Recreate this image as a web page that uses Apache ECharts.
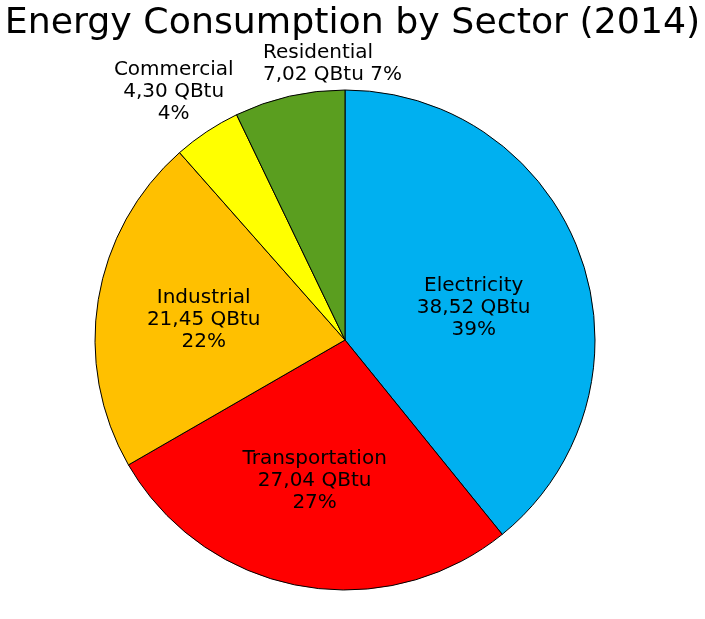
<!DOCTYPE html>
<html><head><meta charset="utf-8">
<script src="https://cdn.jsdelivr.net/npm/echarts@6/dist/echarts.min.js"></script>
<style>html,body{margin:0;padding:0;background:#fff}#c{width:705px;height:619px}</style>
</head><body><div id="c"></div>
<script>
const categories = ['Electricity', 'Transportation', 'Industrial', 'Commercial', 'Residential'];
const values = [38.52, 27.04, 21.45, 4.30, 7.02];
const colors = ['#00B0F0', '#FF0000', '#FFC000', '#FFFF00', '#5A9E1F'];
const unit = 'QBtu';
const total = values.reduce((a, b) => a + b, 0);
const outside = { 'Commercial': 'c', 'Residential': 'l' };
// label nudges (pixels) relative to library default placement
const labelShift = {
  'Electricity': [8, 10], 'Transportation': [-7, 15], 'Industrial': [-15, 0],
  'Commercial': [58, -23], 'Residential': [133, -13]
};

const chart = echarts.init(document.getElementById('c'));
const txt = { fontFamily: 'DejaVu Sans', fontSize: 20, lineHeight: 22, color: '#000' };
chart.setOption({
  animation: false,
  backgroundColor: '#fff',
  title: {
    text: 'Energy Consumption by Sector (2014)',
    left: 'center', top: 1,
    textStyle: { fontFamily: 'DejaVu Sans', fontSize: 36.3, fontWeight: 'normal', color: '#000' }
  },
  series: [{
    type: 'pie',
    center: [345, 340],
    radius: 250,
    startAngle: 90,
    clockwise: true,
    avoidLabelOverlap: false,
    itemStyle: { borderColor: '#000', borderWidth: 1 },
    label: Object.assign({}, txt, {
      rich: {
        c: Object.assign({}, txt, { width: 150, align: 'center' }),
        l: Object.assign({}, txt, { width: 150, align: 'left' })
      },
      formatter: p => {
        const v = p.value.toFixed(2).replace('.', ',') + ' ' + unit;
        const pc = Math.round(p.value / total * 100) + '%';
        let lines = p.name === 'Residential' ? [p.name, v + ' ' + pc] : [p.name, v, pc];
        const st = outside[p.name];
        if (st) return lines.map(s => '{' + st + '|' + s + '}').join('\n');
        return lines.join('\n');
      }
    }),
    labelLine: { show: false, length: 20, length2: 0 },
    labelLayout: p => {
      const s = labelShift[categories[p.dataIndex]] || [0, 0];
      return { dx: s[0], dy: s[1] };
    },
    data: categories.map((n, i) => ({
      name: n, value: values[i],
      itemStyle: { color: colors[i] },
      label: { position: outside[n] ? 'outside' : 'inside' }
    }))
  }]
});
</script></body></html>
